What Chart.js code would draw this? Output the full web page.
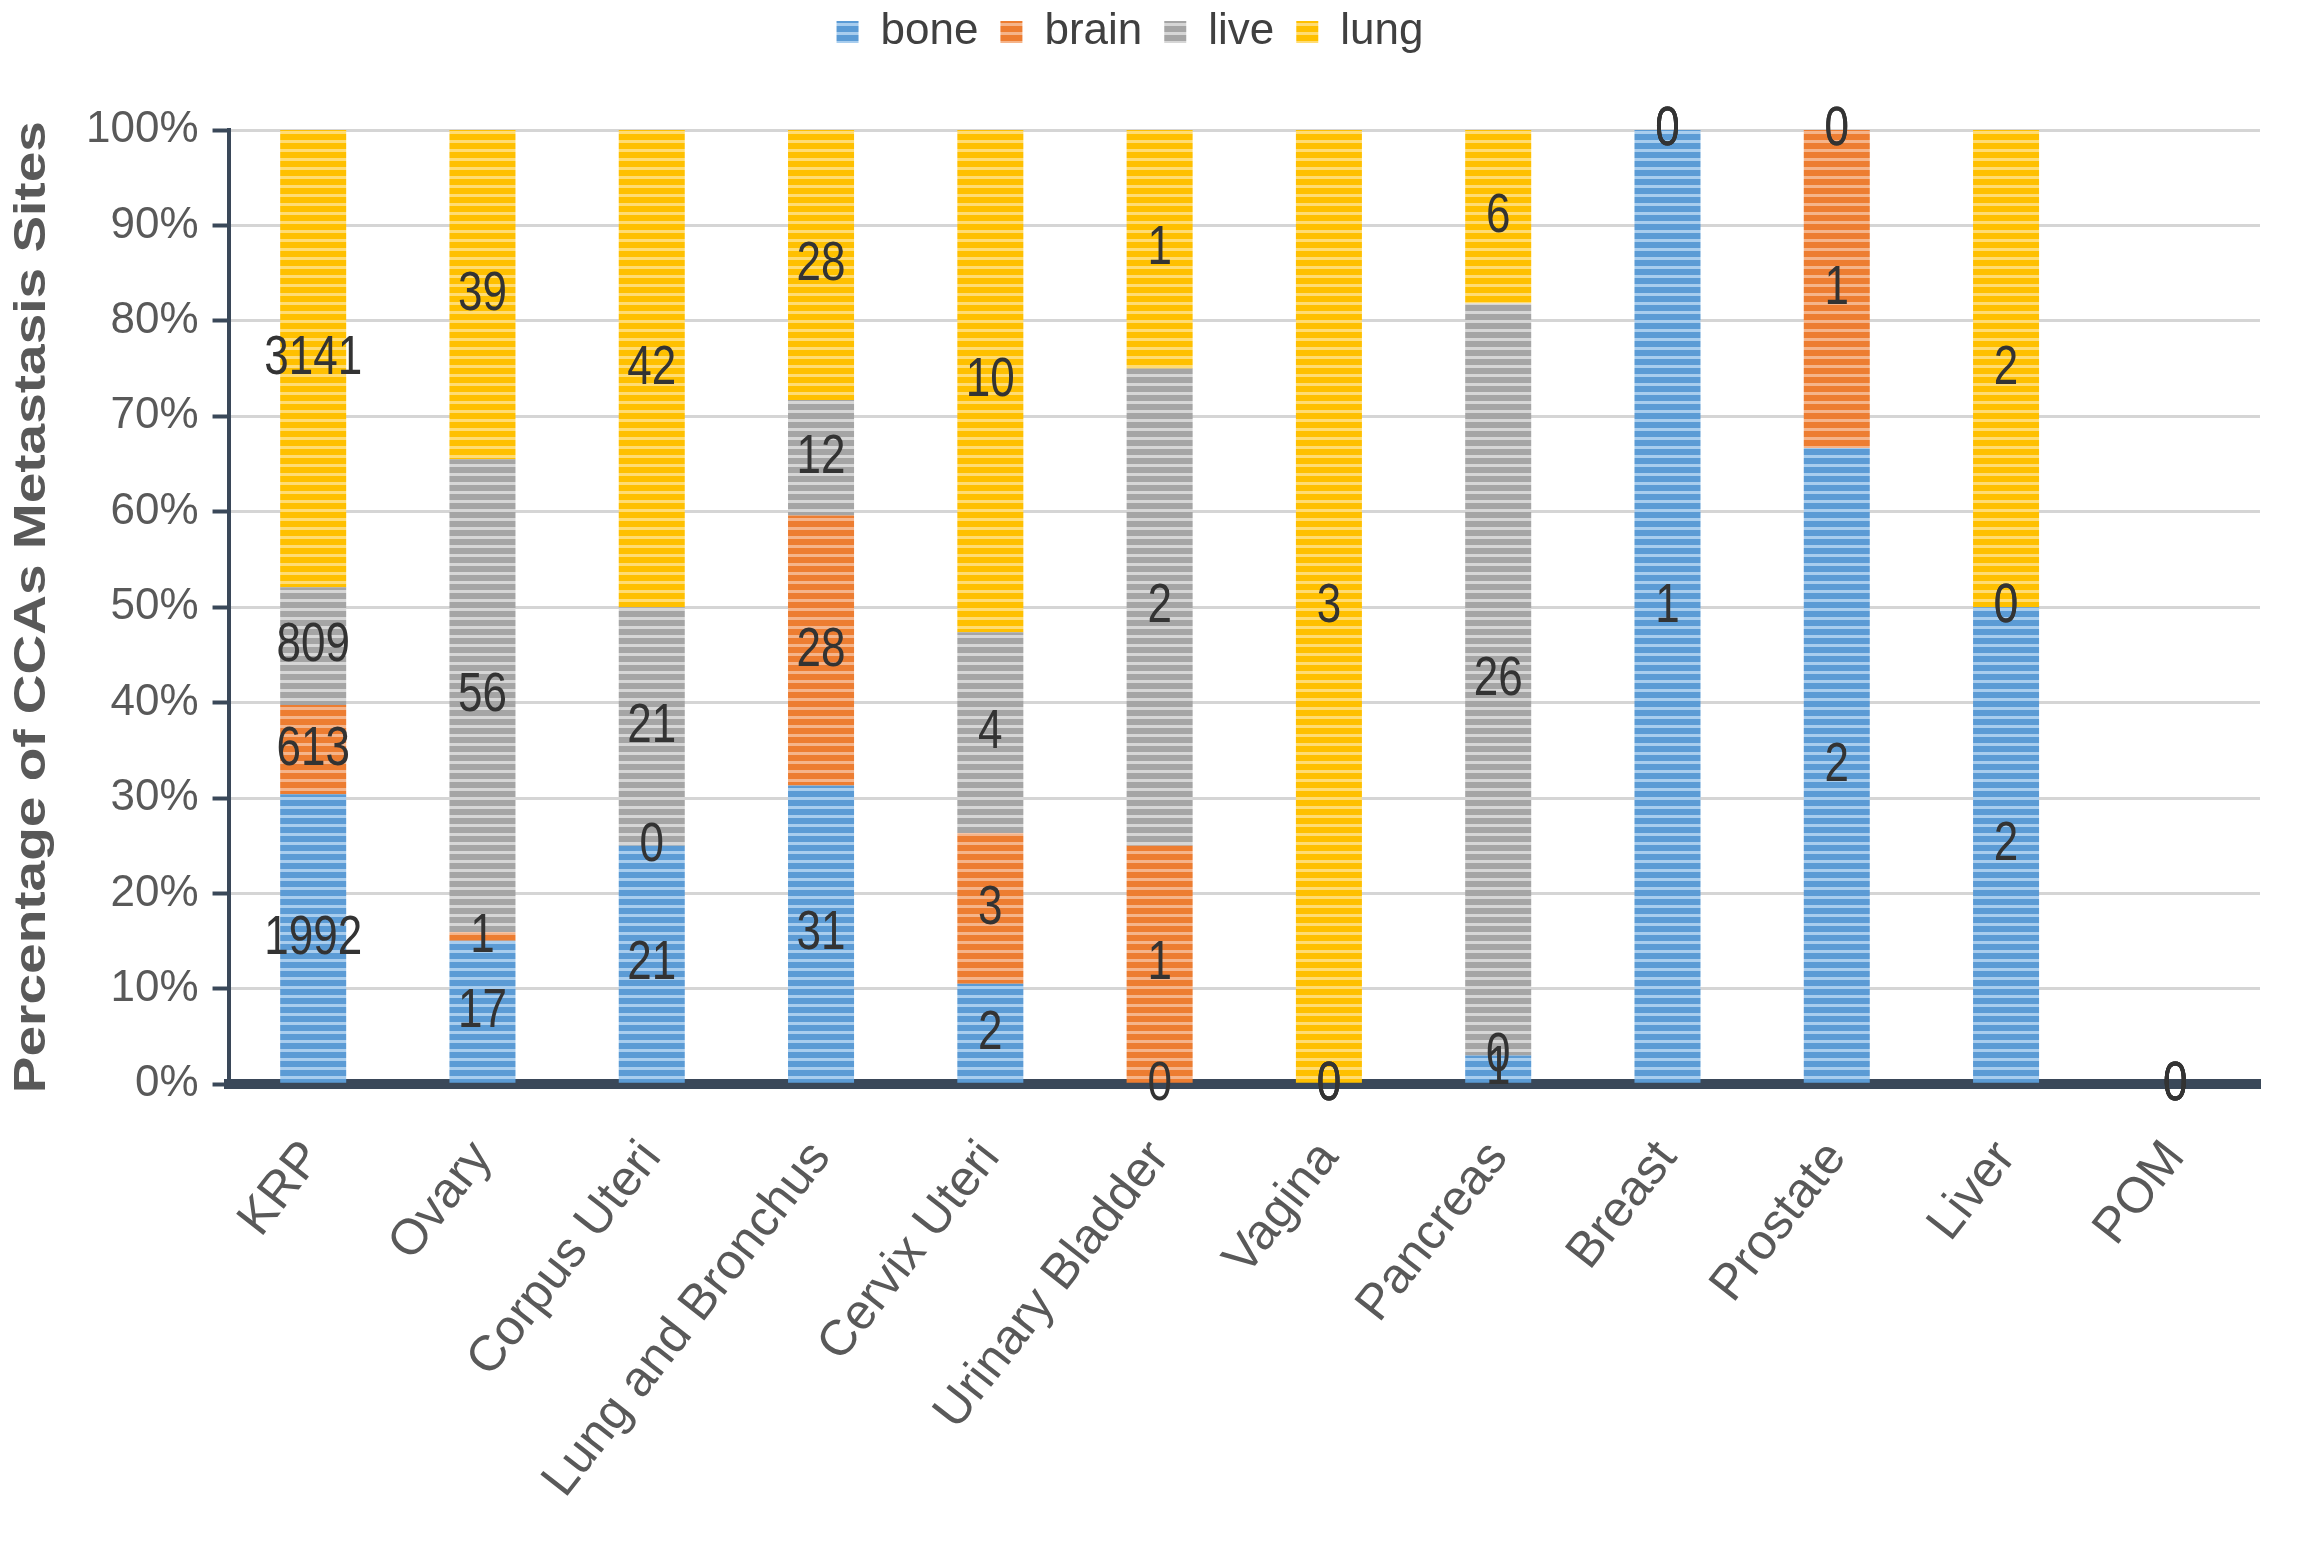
<!DOCTYPE html>
<html>
<head>
<meta charset="utf-8">
<script src="https://cdn.jsdelivr.net/npm/chart.js@4.4.1/dist/chart.umd.min.js"></script>
<style>
html,body{margin:0;padding:0;background:#fff;}
#wrap{width:2303px;height:1551px;position:relative;}
</style>
</head>
<body>
<div id="wrap"><canvas id="c"></canvas></div>
<script>
// ---- data ----
const categories = ["KRP","Ovary","Corpus Uteri","Lung and Bronchus","Cervix Uteri","Urinary Bladder","Vagina","Pancreas","Breast","Prostate","Liver","POM"];
const seriesNames = ["bone","brain","live","lung"];
const boneCounts  = [1992, 17, 21, 31,  2, 0, 0,  1, 1, 2, 2, 0];
const brainCounts = [ 613,  1,  0, 28,  3, 1, 0,  0, 0, 1, 0, 0];
const liveCounts  = [ 809, 56, 21, 12,  4, 2, 0, 26, 0, 0, 0, 0];
const lungCounts  = [3141, 39, 42, 28, 10, 1, 3,  6, 0, 0, 2, 0];
const yTickValues = [0,10,20,30,40,50,60,70,80,90,100];
const yTitle = 'Percentage of CCAs Metastasis Sites';

// ---- styling helpers ----
function stripes(base, light){
  const c = document.createElement('canvas');
  c.width = 4; c.height = 9;
  const g = c.getContext('2d');
  g.fillStyle = base; g.fillRect(0,0,4,9);
  g.fillStyle = light; g.fillRect(0,5,4,3);
  return g.createPattern(c,'repeat');
}
const fills = [
  stripes('#5B9BD5','#A8CDEE'),
  stripes('#ED7D31','#F5B48A'),
  stripes('#A5A5A5','#D6D6D6'),
  stripes('#FFC000','#FFDC73')
];

const allCounts = [boneCounts, brainCounts, liveCounts, lungCounts];
const totals = categories.map((_, i) => allCounts.reduce((s, a) => s + a[i], 0));
const toPct = arr => arr.map((v, i) => totals[i] ? v / totals[i] * 100 : 0);

const datasets = seriesNames.map((name, k) => ({
  label: name,
  data: toPct(allCounts[k]),
  counts: allCounts[k],
  backgroundColor: fills[k],
  borderWidth: 0,
  categoryPercentage: 1.0,
  barPercentage: 0.39
}));

const FONT = '"Liberation Sans", Arial, sans-serif';

const legendGap = {
  id: 'legendGap',
  beforeInit(chart){
    const fit = chart.legend.fit;
    chart.legend.fit = function(){ fit.bind(chart.legend)(); this.height += 66; };
  }
};

const countLabels = {
  id: 'countLabels',
  afterDraw(chart){
    const ctx = chart.ctx;
    ctx.save();
    ctx.font = '44px ' + FONT;
    ctx.fillStyle = '#333333';
    ctx.textAlign = 'center';
    ctx.textBaseline = 'middle';
    chart.data.datasets.forEach((ds, di) => {
      const meta = chart.getDatasetMeta(di);
      meta.data.forEach((el, i) => {
        const x = el.x, y = (el.y + el.base) / 2;
        ctx.save();
        ctx.translate(x, y);
        ctx.scale(1, 1.25);
        ctx.fillText(String(ds.counts[i]), 0, 0);
        ctx.restore();
      });
    });
    ctx.restore();
    // y-axis title
    const ca = chart.chartArea;
    ctx.save();
    ctx.font = 'bold 44px ' + FONT;
    ctx.fillStyle = '#595959';
    ctx.textAlign = 'center';
    ctx.textBaseline = 'middle';
    ctx.translate(33, (ca.top + ca.bottom) / 2);
    ctx.rotate(-Math.PI / 2);
    ctx.scale(1.25, 1);
    ctx.fillText(yTitle, 0, 0);
    ctx.restore();
  }
};

new Chart(document.getElementById('c'), {
  type: 'bar',
  data: { labels: categories, datasets },
  plugins: [legendGap, countLabels],
  options: {
    responsive: true,
    maintainAspectRatio: false,
    devicePixelRatio: 1,
    animation: false,
    layout: { padding: { top: -12, left: 0, right: 43, bottom: 4 } },
    plugins: {
      tooltip: { enabled: false },
      legend: {
        position: 'top',
        labels: {
          boxWidth: 22, boxHeight: 22, padding: 22,
          color: '#404040',
          font: { size: 44, family: FONT }
        }
      }
    },
    scales: {
      x: {
        stacked: true,
        z: 1,
        grid: { display: false },
        border: { display: true, color: '#3A4859', width: 10 },
        ticks: {
          minRotation: 52, maxRotation: 52,
          padding: 38,
          color: '#595959',
          font: { size: 50, family: FONT }
        }
      },
      y: {
        stacked: true,
        min: 0, max: 100,
        afterBuildTicks(scale){ scale.ticks = yTickValues.map(v => ({ value: v })); },
        afterFit(scale){ scale.width += 72; },
        grid: { color: '#D5D5D5', lineWidth: 3, tickColor: '#3A4859', tickWidth: 4, tickLength: 16 },
        border: { display: true, color: '#3A4859', width: 4 },
        ticks: {
          padding: 14,
          color: '#595959',
          font: { size: 44, family: FONT },
          callback: v => v + '%'
        }
      }
    }
  }
});
</script>
</body>
</html>
